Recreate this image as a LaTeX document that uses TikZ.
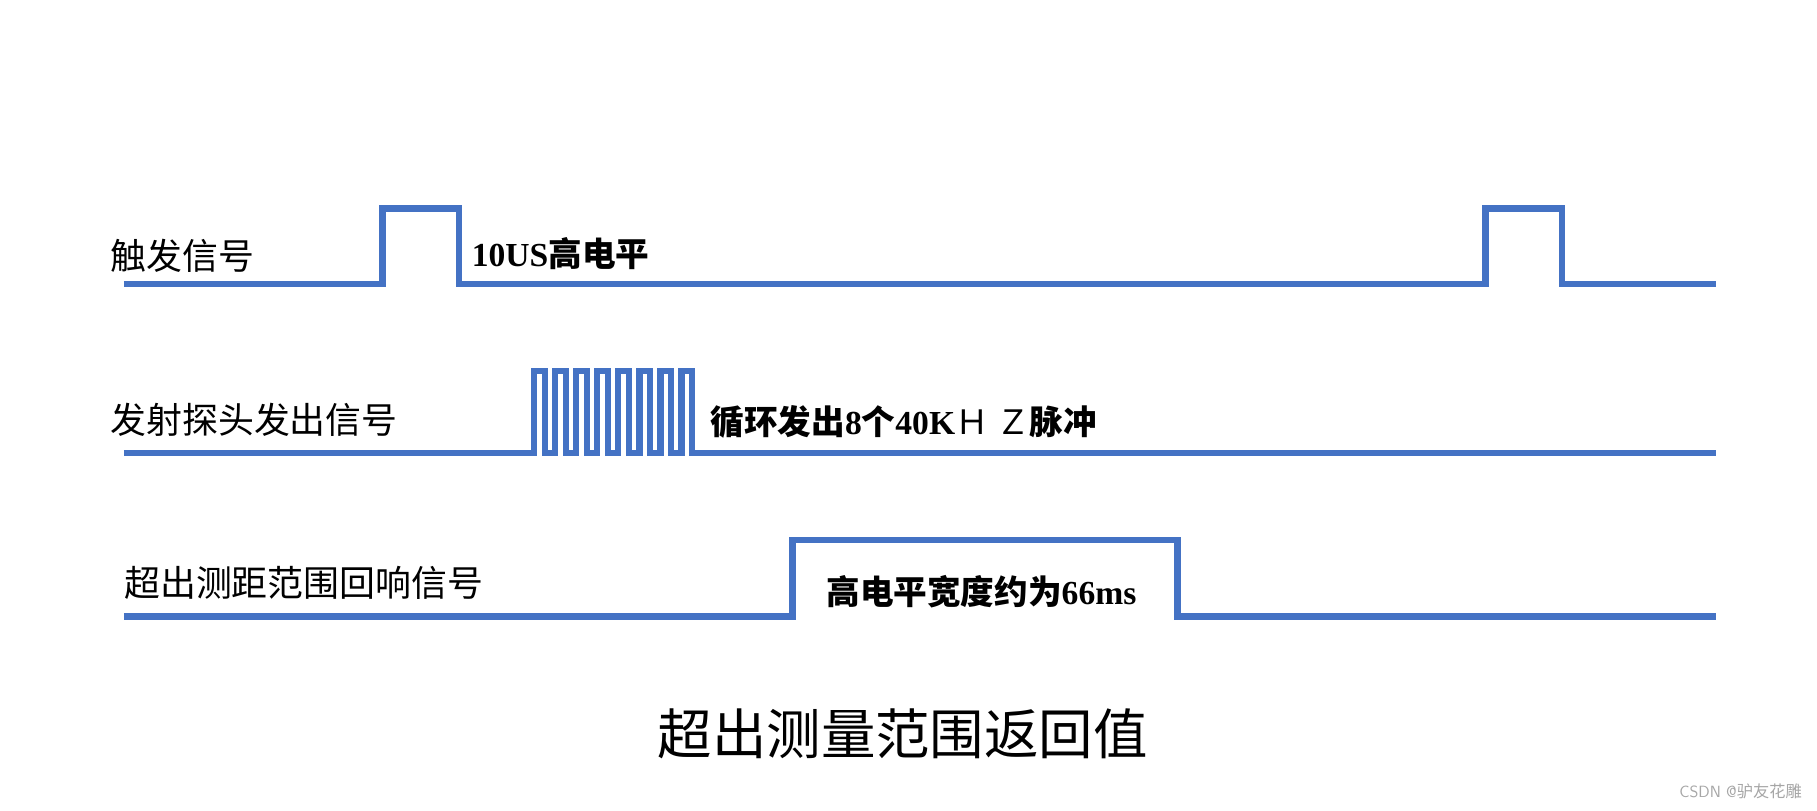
\documentclass[tikz,border=0pt]{standalone}
\usepackage{fontspec}
\setmainfont{Liberation Serif}
\newfontfamily\cjk{Noto Sans CJK SC}
\definecolor{sig}{RGB}{68,114,196}
\begin{document}
\begin{tikzpicture}[x=1pt,y=-1pt,
  wave/.style={draw=sig,line width=5.5pt,line join=miter},
  lbl/.style={anchor=west,inner sep=0pt,font=\fontsize{31}{33}\selectfont\cjk},
  note/.style={anchor=west,inner sep=0pt,font=\fontsize{29}{31}\selectfont\bfseries}]
\useasboundingbox (0,0) rectangle (1568,699);
\fill[white] (0,0) rectangle (1568,699);
% trigger
\draw[wave] (107,245) -- (330,245) -- (330,180) -- (396,180) -- (396,245) -- (1282,245) -- (1282,180) -- (1348,180) -- (1348,245) -- (1481,245);
\node[lbl] (t1) at (95,221) {触发信号};
\node[note] (t2) at (407,219) {10US{\cjk 高电平}};
% emitter
\draw[wave] (107,391) -- (461,391)
  \foreach \i in {0,...,7} { -- ({461+\i*18.14},320) -- ({470.07+\i*18.14},320) -- ({470.07+\i*18.14},391) -- ({479.14+\i*18.14},391) }
  -- (1481,391);
\node[lbl] (e1) at (95,362) {发射探头发出信号};
\node[note] (e2) at (613,364) {{\cjk 循环发出}8{\cjk 个}40K{\mdseries\cjk Ｈ Ｚ}{\cjk 脉冲}};
% echo
\draw[wave] (107,532) -- (684,532) -- (684,466) -- (1016,466) -- (1016,532) -- (1481,532);
\node[lbl] (r1) at (107,503) {超出测距范围回响信号};
\node[note] (r2) at (713,511) {{\cjk 高电平宽度约为}66ms};
% title
\node[anchor=center,inner sep=0pt,font=\fontsize{47}{50}\selectfont\cjk\mdseries] (title) at (779,633) {超出测量范围返回值};
\node[anchor=east,inner sep=0pt,text=gray!70,font=\fontsize{14}{16}\selectfont\sffamily] (wm) at (1555,683) {CSDN @{\cjk 驴友花雕}};
\end{tikzpicture}
\end{document}
